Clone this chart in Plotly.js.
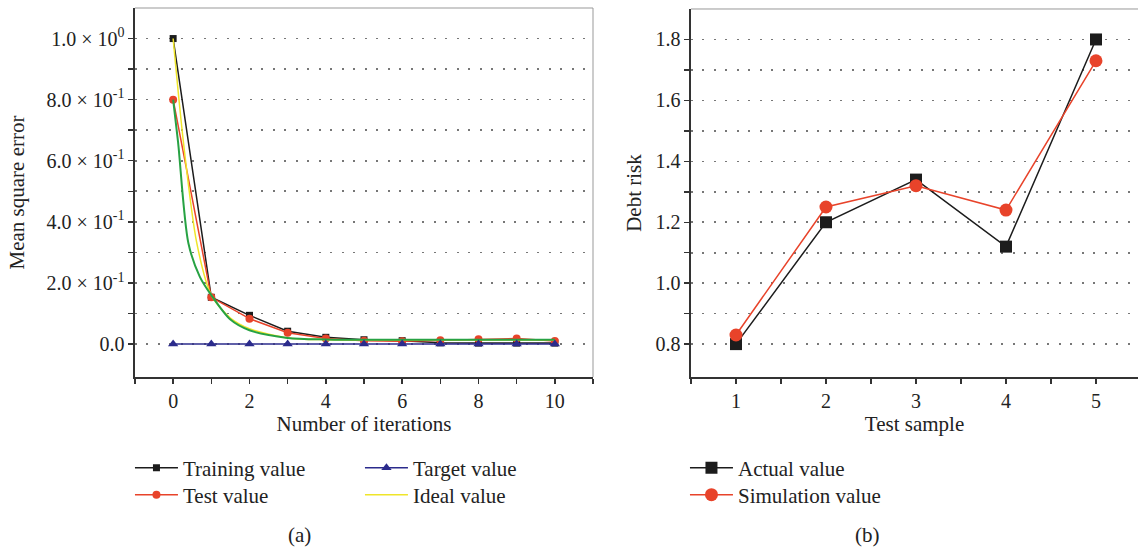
<!DOCTYPE html>
<html><head><meta charset="utf-8">
<script src="https://cdn.plot.ly/plotly-3.0.1.min.js"></script>
<style>html,body{margin:0;padding:0;background:#fff}#chart{width:1138px;height:548px}</style>
</head><body><div id="chart"></div>
<script>
// ---- Panel (a) data ----
const iterations = [0,1,2,3,4,5,6,7,8,9,10];
const trainingValue = [1.0,0.153,0.094,0.042,0.022,0.014,0.011,0.004,0.003,0.003,0.003];
const testValue = [0.8,0.153,0.083,0.037,0.018,0.011,0.009,0.012,0.016,0.018,0.01];
const targetValue = [0,0,0,0,0,0,0,0,0,0,0];
const idealX = [0,0.27,0.62,1,1.5,2,3,4,5,6,7,8,9,10];
const idealValue = [1.0,0.66,0.33,0.16,0.085,0.05,0.02,0.014,0.013,0.013,0.013,0.013,0.013,0.013];
const fitX = [0,0.13,0.4,0.7,1,1.5,2,3,4,5,6,7,8,9,10];
const fitValue = [0.8,0.66,0.33,0.22,0.16,0.08,0.045,0.02,0.015,0.014,0.014,0.014,0.014,0.014,0.014];
const yTickValsA = [0,0.2,0.4,0.6,0.8,1.0];
const yTickTextA = ['0.0','2.0 × 10<sup>-1</sup>','4.0 × 10<sup>-1</sup>','6.0 × 10<sup>-1</sup>','8.0 × 10<sup>-1</sup>','1.0 × 10<sup>0</sup>'];
const yMinorA = [0.1,0.3,0.5,0.7,0.9];
const xTickValsA = [0,2,4,6,8,10];
const xTickTextA = ['0','2','4','6','8','10'];
const xMinorA = [-1,1,3,5,7,9,11];

// ---- Panel (b) data ----
const samples = [1,2,3,4,5];
const actualValue = [0.80,1.20,1.34,1.12,1.80];
const simulationValue = [0.83,1.25,1.32,1.24,1.73];
const yTickValsB = [0.8,1.0,1.2,1.4,1.6,1.8];
const yTickTextB = ['0.8','1.0','1.2','1.4','1.6','1.8'];
const yMinorB = [0.9,1.1,1.3,1.5,1.7];
const xTickValsB = [1,2,3,4,5];
const xTickTextB = ['1','2','3','4','5'];
const xMinorB = [0.5,1.5,2.5,3.5,4.5];

const FONT = 'Liberation Serif, Times New Roman, serif';
const TXT = '#222';
const RED = '#e8432a', BLACK = '#1c1c1c', NAVY = '#2b2b8c', YELLOW = '#efe52a', GREEN = '#27a243';
const TICKF = 20, TITLEF = 21, LEGF = 21;

const traces = [
  {x: iterations, y: trainingValue, name: 'Training value', type: 'scatter', mode: 'lines+markers',
   line: {color: BLACK, width: 1.5}, marker: {symbol: 'square', size: 7, color: BLACK}, xaxis: 'x', yaxis: 'y', legend: 'legend'},
  {x: iterations, y: testValue, name: 'Test value', type: 'scatter', mode: 'lines+markers',
   line: {color: RED, width: 1.5}, marker: {symbol: 'circle', size: 8, color: RED}, xaxis: 'x', yaxis: 'y', legend: 'legend2'},
  {x: idealX, y: idealValue, name: 'Ideal value', type: 'scatter', mode: 'lines',
   line: {color: YELLOW, width: 1.5, shape: 'spline', smoothing: 0.8}, xaxis: 'x', yaxis: 'y', legend: 'legend4'},
  {x: fitX, y: fitValue, name: 'Fit', type: 'scatter', mode: 'lines', showlegend: false,
   line: {color: GREEN, width: 2, shape: 'spline', smoothing: 0.8}, xaxis: 'x', yaxis: 'y'},
  {x: iterations, y: targetValue, name: 'Target value', type: 'scatter', mode: 'lines+markers',
   line: {color: NAVY, width: 1.5}, marker: {symbol: 'triangle-up', size: 9, color: NAVY}, xaxis: 'x', yaxis: 'y', legend: 'legend3'},
  {x: samples, y: actualValue, name: 'Actual value', type: 'scatter', mode: 'lines+markers',
   line: {color: BLACK, width: 1.5}, marker: {symbol: 'square', size: 12, color: BLACK}, xaxis: 'x2', yaxis: 'y2', legend: 'legend5'},
  {x: samples, y: simulationValue, name: 'Simulation value', type: 'scatter', mode: 'lines+markers',
   line: {color: RED, width: 1.5}, marker: {symbol: 'circle', size: 13, color: RED}, xaxis: 'x2', yaxis: 'y2', legend: 'legend6'}
];

const GRIDC = '#777', GRIDW = 1.6, GRIDD = '1.6px,9.9px';
function axisBase(extra) {
  return Object.assign({
    showline: true, linecolor: '#333', linewidth: 1.5, ticks: 'outside', ticklen: 5, tickcolor: '#333', tickwidth: 1.5,
    tickfont: {family: FONT, size: TICKF, color: TXT}, zeroline: false, tickmode: 'array'
  }, extra);
}
function minorX(vals) { return {tickmode: 'array', tickvals: vals, ticks: 'outside', ticklen: 5, tickcolor: '#333', tickwidth: 1.5, showgrid: false}; }
function minorY(vals) { return {tickmode: 'array', tickvals: vals, ticks: 'outside', ticklen: 5, tickcolor: '#333', tickwidth: 1.5,
  showgrid: true, gridcolor: GRIDC, gridwidth: GRIDW, griddash: GRIDD}; }
const titleFont = {family: FONT, size: TITLEF, color: TXT};
const legFont = {family: FONT, size: LEGF, color: TXT};
function leg(x, y) { return {x: x, y: y, xanchor: 'left', yanchor: 'middle', bgcolor: 'rgba(0,0,0,0)', font: legFont, itemwidth: 43, tracegroupgap: 0}; }
const ROW1 = 0.146, ROW2 = 0.0967;

const layout = {
  width: 1138, height: 548, margin: {l: 0, r: 0, t: 0, b: 0},
  paper_bgcolor: '#fff', plot_bgcolor: '#fff', font: {family: FONT, color: TXT},
  xaxis: axisBase({domain: [0.1186, 0.5211], range: [-1, 11], tickvals: xTickValsA, ticktext: xTickTextA,
    minor: minorX(xMinorA), showgrid: false, anchor: 'y',
    title: {text: 'Number of iterations', font: titleFont, standoff: 6}}),
  yaxis: axisBase({domain: [0.312, 0.9854], range: [-0.108, 1.10], tickvals: yTickValsA, ticktext: yTickTextA,
    minor: minorY(yMinorA), showgrid: true, gridcolor: GRIDC, gridwidth: GRIDW, griddash: GRIDD, anchor: 'x',
    title: {text: 'Mean square error', font: titleFont, standoff: 16}}),
  xaxis2: axisBase({domain: [0.6072, 1.0], range: [0.5, 5.467], tickvals: xTickValsB, ticktext: xTickTextB,
    minor: minorX(xMinorB), showgrid: false, anchor: 'y2',
    title: {text: 'Test sample', font: titleFont, standoff: 6}}),
  yaxis2: axisBase({domain: [0.312, 0.9836], range: [0.692, 1.9], tickvals: yTickValsB, ticktext: yTickTextB,
    minor: minorY(yMinorB), showgrid: true, gridcolor: GRIDC, gridwidth: GRIDW, griddash: GRIDD, anchor: 'x2',
    title: {text: 'Debt risk', font: titleFont, standoff: 8}}),
  legend: leg(0.1142, ROW1),
  legend2: leg(0.1142, ROW2),
  legend3: leg(0.3163, ROW1),
  legend4: leg(0.3163, ROW2),
  legend5: leg(0.6019, ROW1),
  legend6: leg(0.6019, ROW2),
  shapes: [
    {type: 'line', xref: 'x domain', yref: 'y domain', x0: 0, x1: 1, y0: 1, y1: 1, line: {color: '#999', width: 1}},
    {type: 'line', xref: 'x domain', yref: 'y domain', x0: 1, x1: 1, y0: 0, y1: 1, line: {color: '#999', width: 1}},
    {type: 'line', xref: 'x2 domain', yref: 'y2 domain', x0: 0, x1: 1, y0: 1, y1: 1, line: {color: '#999', width: 1}}
  ],
  annotations: [
    {text: '(a)', xref: 'paper', yref: 'paper', x: 0.2636, y: 0.024, xanchor: 'center', yanchor: 'middle', showarrow: false, font: titleFont},
    {text: '(b)', xref: 'paper', yref: 'paper', x: 0.7627, y: 0.024, xanchor: 'center', yanchor: 'middle', showarrow: false, font: titleFont}
  ],
  showlegend: true
};

Plotly.newPlot('chart', traces, layout, {displayModeBar: false, staticPlot: true});
</script></body></html>
